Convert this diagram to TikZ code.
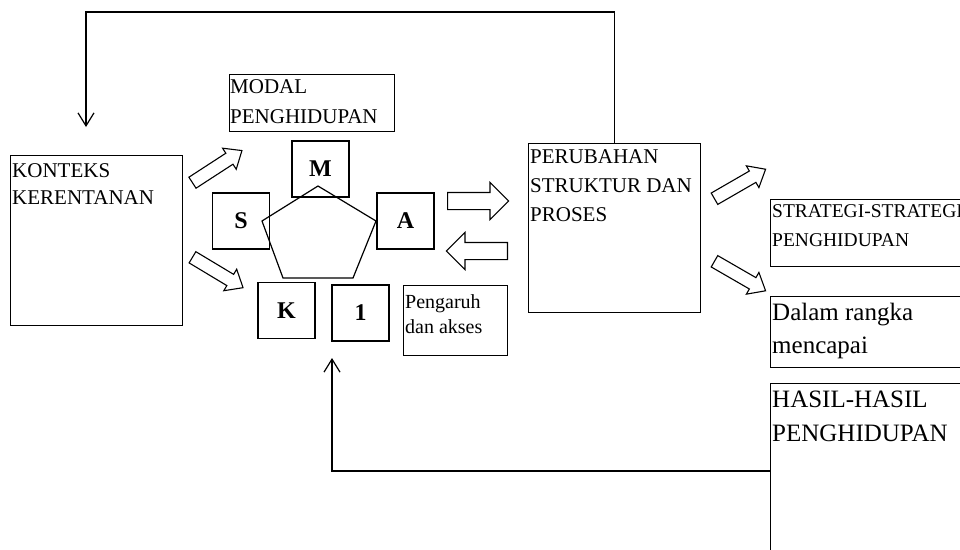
\documentclass[tikz,border=0pt]{standalone}
\usepackage{fontspec}
\setmainfont{Liberation Serif}
\usetikzlibrary{positioning,arrows.meta,shapes.arrows,calc}
\tikzset{
    every node/.style={font=\rmfamily},
    box/.style={draw,line width=1.2pt,anchor=north west,inner sep=0pt},
    boxtext/.style={anchor=north west,align=left,inner xsep=2pt,inner ysep=6pt},
    letterbox/.style={draw,line width=1.2pt,minimum width=57pt,minimum height=56pt,inner sep=0pt,font=\fontsize{24}{28}\selectfont\bfseries},
    diagarrow/.style={single arrow,draw,line width=1.1pt,anchor=tail,inner xsep=0pt,inner ysep=6pt,
        single arrow head extend=6pt,single arrow tip angle=80,minimum height=59pt},
    flatarrow/.style={single arrow,draw,line width=1.1pt,anchor=tail,inner xsep=0pt,inner ysep=8pt,
        single arrow head extend=10pt,single arrow tip angle=90,minimum height=61pt},
    feedback/.style={draw,line width=1.2pt,-{Straight Barb[length=13pt,width=16pt]}}
}

\begin{document}
\begin{tikzpicture}[x=1pt,y=-1pt]
\useasboundingbox (0,0) rectangle (960,549);

% boxes
\node[box,minimum width=172pt,minimum height=170pt] (kon) at (10,155) {};
\node[boxtext,inner ysep=8pt,font=\fontsize{21}{27}\selectfont] (kontext) at (kon.north west) {KONTEKS\\KERENTANAN};
\node[box,minimum width=165pt,minimum height=57pt] (modal) at (229,74) {};
\node[boxtext,inner xsep=1pt,inner ysep=5pt,font=\fontsize{21}{30}\selectfont] (modaltext) at (modal.north west) {MODAL\\PENGHIDUPAN};
\node[box,minimum width=172pt,minimum height=169pt] (perubahan) at (528,143) {};
\node[boxtext,font=\fontsize{21}{29}\selectfont] (perubahantext) at (perubahan.north west) {PERUBAHAN\\STRUKTUR DAN\\PROSES};
\node[box,minimum width=104pt,minimum height=70pt] (pengaruh) at (403,285) {};
\node[boxtext,inner ysep=9pt,font=\fontsize{20}{25}\selectfont] (pengaruhtext) at (pengaruh.north west) {Pengaruh\\dan akses};
\node[box,minimum width=220pt,minimum height=67pt] (strategi) at (770,199) {};
\node[boxtext,inner ysep=5pt,font=\fontsize{19.5}{29}\selectfont] (strategitext) at (strategi.north west) {STRATEGI-STRATEGI\\PENGHIDUPAN};
\node[box,minimum width=220pt,minimum height=71pt] (dalam) at (770,296) {};
\node[boxtext,inner ysep=7pt,font=\fontsize{25}{33}\selectfont] (dalamtext) at (dalam.north west) {Dalam rangka\\mencapai};
\node[box,minimum width=220pt,minimum height=220pt] (hasil) at (770,383) {};
\node[boxtext,inner ysep=8pt,font=\fontsize{25}{34}\selectfont] (hasiltext) at (hasil.north west) {HASIL-HASIL\\PENGHIDUPAN};

% pentagon of assets
\node[letterbox] (m) at (320.5,169) {M};
\node[letterbox] (s) at (241,221) {S};
\node[letterbox] (a) at (405.5,221) {A};
\node[letterbox] (k) at (286.5,310.5) {K};
\node[letterbox] (one) at (360.5,313) {1};
\draw[line width=1.2pt] (318,186) -- (376,221) -- (353,278) -- (283,278) -- (262,221) -- cycle;

% block arrows
\node[diagarrow,rotate=33] (ar1) at (192,183) {};
\node[diagarrow,rotate=-31] (ar2) at (192,257) {};
\node[flatarrow] (ar3) at (447,201) {};
\node[flatarrow,rotate=180] (ar4) at (508,251) {};
\node[diagarrow,rotate=30] (ar5) at (714,199) {};
\node[diagarrow,rotate=-30] (ar6) at (714,261) {};

% feedback lines
\coordinate (fbtop) at (86,127);
\coordinate (fbstart) at (770,471);
\coordinate (fbtip) at (332,358);
\draw[feedback] (perubahan.north) -- ++(0,-131) -| (fbtop);
\draw[feedback] (fbstart) -| (fbtip);
\end{tikzpicture}
\end{document}
